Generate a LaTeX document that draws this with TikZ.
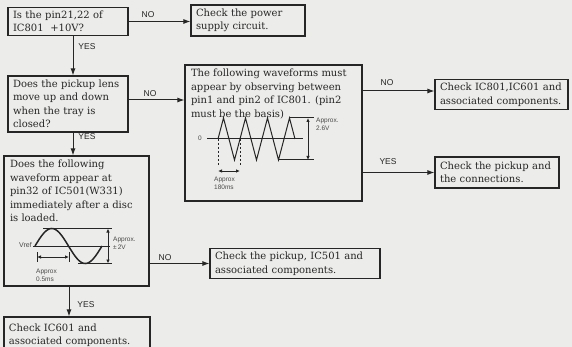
\documentclass[tikz,border=0pt]{standalone}
\usepackage{fontspec}
\setmainfont{DejaVu Serif}
\setsansfont{Liberation Sans}
\usetikzlibrary{arrows.meta}
\definecolor{ink}{HTML}{262626}
\definecolor{muted}{HTML}{4A4A4A}
\definecolor{paper}{HTML}{ECECEA}
\tikzset{
  box/.style={
    draw=ink,
    line width=1.1pt,
    align=left,
    inner xsep=5pt,
    inner ysep=3pt,
    font=\fontsize{10}{13.5}\selectfont,
    text=ink
  },
  frame/.style={draw=ink,line width=1.1pt,inner sep=0pt},
  boxtext/.style={box,draw=none,inner xsep=6pt,inner ysep=4pt},
  flow/.style={-{Latex[length=7pt,width=5pt]},line width=1pt,draw=ink},
  tag/.style={font=\sffamily\fontsize{8.5}{9}\selectfont,text=ink},
  note/.style={font=\sffamily\fontsize{6.5}{8}\selectfont,text=muted,align=left,inner sep=1pt},
  wave/.style={draw=ink,line width=1pt},
  guide/.style={draw=ink,line width=.9pt,dashed,dash pattern=on 2.5pt off 1.5pt},
  dim/.style={{Latex[length=4pt,width=3.5pt]}-{Latex[length=4pt,width=3.5pt]},draw=ink,line width=.8pt}
}
\begin{document}
\begin{tikzpicture}[x=1pt,y=1pt]
  \fill[paper] (0,0) rectangle (572,-347);
  \useasboundingbox (0,0) rectangle (572,-347);
  \clip (0,0) rectangle (572,-347);

  \node[box,minimum width=120pt,minimum height=28pt,text width=110pt] (pinq) at (68,-21.5)
    {Is the pin21,22 of\\IC801~~+10V?};
  \node[box,minimum width=114pt,minimum height=31pt,text width=104pt] (power) at (248,-20.5)
    {Check the power\\supply circuit.};
  \node[box,minimum width=120pt,minimum height=56pt,text width=110pt] (lensq) at (68,-104)
    {Does the pickup lens\\move up and down\\when the tray is\\closed?};

  % waveform check between pin1 and pin2
  \node[frame,minimum width=177pt,minimum height=136pt] (waveq) at (273.5,-133) {};
  \node[boxtext,anchor=north west] (wavetext) at (waveq.north west) {
    The following waveforms must\\
    appear by observing between\\
    pin1 and pin2 of IC801. (pin2\\
    must be the basis)
  };
  \draw[wave] (207,-139) -- (303,-139);
  \draw[wave] (218,-139) -- (223.5,-118) -- (234.5,-160) -- (245.5,-118) -- (256.5,-160)
    -- (267.5,-118) -- (278.5,-160) -- (289.5,-118) -- (295,-139);
  \draw[wave] (289.5,-118) -- (314,-118);
  \draw[wave] (278.5,-160) -- (314,-160);
  \draw[dim] (308,-118) -- (308,-160);
  \draw[guide] (218,-139) -- (218,-166);
  \draw[guide] (240,-139) -- (240,-166);
  \draw[dim] (218,-171) -- (240,-171);
  \node[note] (zerolbl) at (200,-138) {0};
  \node[note,anchor=north west] (triamp) at (315,-117) {Approx.\\2.6V};
  \node[note,anchor=north west] (triper) at (213,-176) {Approx\\180ms};

  \node[box,minimum width=133pt,minimum height=29pt,text width=123pt] (icchk) at (501.5,-94.5)
    {Check IC801,IC601 and\\associated components.};
  \node[box,minimum width=124pt,minimum height=31pt,text width=114pt] (conn) at (497,-172.5)
    {Check the pickup and\\the connections.};

  % waveform check at pin32 of IC501
  \node[frame,minimum width=145pt,minimum height=130pt] (sineq) at (76.5,-221) {};
  \node[boxtext,anchor=north west] (sinetext) at (sineq.north west) {
    Does the following\\
    waveform appear at\\
    pin32 of IC501(W331)\\
    immediately after a disc\\
    is loaded.
  };
  \draw[wave] (33,-246) -- (110,-246);
  \draw[wave,line width=1.5pt,domain=0:360,samples=61]
    plot ({35+0.1861*\x},{-246+17.5*sin(\x)});
  \draw[wave] (43,-228.5) -- (112,-228.5);
  \draw[wave] (78,-263.5) -- (112,-263.5);
  \draw[dim] (108,-228.5) -- (108,-263.5);
  \draw[wave] (37,-252) -- (37,-262);
  \draw[wave] (69,-252) -- (69,-262);
  \draw[dim] (37,-257) -- (69,-257);
  \node[note,anchor=east,font=\sffamily\fontsize{7}{8}\selectfont] (vref) at (33,-245) {Vref};
  \node[note,anchor=west] (sineamp) at (112,-243) {Approx.\\±\,2V};
  \node[note,anchor=north west] (sineper) at (35,-268) {Approx\\0.5ms};

  \node[box,minimum width=170pt,minimum height=29pt,text width=160pt] (pickchk) at (295,-263.5)
    {Check the pickup, IC501 and\\associated components.};
  \node[box,minimum width=146pt,minimum height=36pt,text width=136pt] (ic601) at (77,-335)
    {Check IC601 and\\associated components.};

  \coordinate (nohit) at ([yshift=3.5pt]icchk.west);
  \coordinate (lensout) at ([yshift=4pt]lensq.east);

  \draw[flow] (pinq.east) -- (power.west |- pinq.east);
  \draw[flow] ([xshift=5pt]pinq.south) -- ([xshift=5pt]pinq.south |- lensq.north);
  \draw[flow] (lensout) -- (lensout -| waveq.west);
  \draw[flow] ([xshift=5pt]lensq.south) -- ([xshift=5pt]lensq.south |- sineq.north);
  \draw[flow] (waveq.east |- nohit) -- (nohit);
  \draw[flow] (waveq.east |- conn.west) -- (conn.west);
  \draw[flow] (sineq.east |- pickchk.west) -- (pickchk.west);
  \draw[flow] ([xshift=-7.5pt]sineq.south) -- ([xshift=-7.5pt]sineq.south |- ic601.north);

  \node[tag] (no1) at (148,-15) {NO};
  \node[tag] (yes1) at (87,-47) {YES};
  \node[tag] (no2) at (150,-94) {NO};
  \node[tag] (yes2) at (87,-137) {YES};
  \node[tag] (no3) at (387,-83) {NO};
  \node[tag] (yes3) at (388,-162) {YES};
  \node[tag] (no4) at (165,-258) {NO};
  \node[tag] (yes4) at (86,-305) {YES};
\end{tikzpicture}
\end{document}
